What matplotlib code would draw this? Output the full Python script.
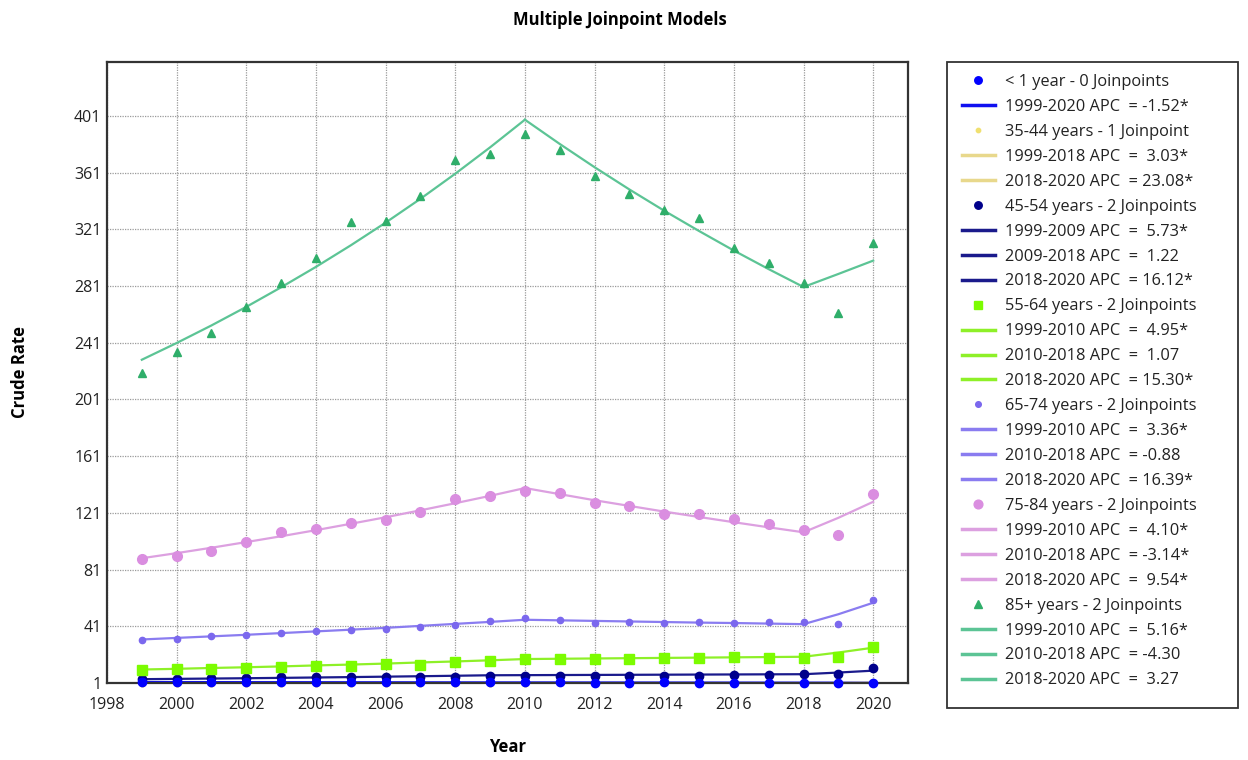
import matplotlib
matplotlib.use('Agg')
import matplotlib.pyplot as plt
from matplotlib.patches import Rectangle

plt.rcParams['font.family'] = ['Open Sans', 'DejaVu Sans']

years = list(range(1999, 2021))

# observed crude rates per age group
obs_under1 = [1.68, 1.62, 1.70, 1.55, 1.60, 1.52, 1.50, 1.55, 1.45, 1.47, 1.40,
              1.42, 1.38, 1.35, 1.33, 1.36, 1.30, 1.28, 1.25, 1.24, 1.22, 1.20]
obs_35_44 = [0.44, 0.47, 0.48, 0.50, 0.49, 0.53, 0.55, 0.54, 0.58, 0.60, 0.61,
             0.62, 0.65, 0.66, 0.69, 0.70, 0.73, 0.74, 0.78, 0.79, 0.95, 1.22]
obs_45_54 = [3.8, 3.8, 4.3, 4.5, 5.0, 5.0, 5.0, 5.2, 5.2, 5.5, 6.2,
             6.2, 6.2, 6.2, 6.2, 6.2, 6.2, 6.6, 6.6, 7.3, 7.1, 11.3]
obs_55_64 = [10.2, 11.1, 11.1, 11.6, 12.5, 13.0, 13.0, 14.2, 13.7, 16.0, 16.7,
             17.7, 17.7, 17.7, 18.1, 18.4, 18.4, 19.1, 18.8, 18.8, 19.1, 26.6]
obs_65_74 = [31.3, 32.3, 33.9, 35.1, 36.3, 37.5, 38.6, 39.1, 40.7, 42.1, 44.5,
             46.9, 45.7, 43.3, 43.8, 43.3, 44.2, 43.3, 44.0, 44.0, 42.6, 59.3]
obs_75_84 = [88.3, 90.6, 94.1, 100.7, 107.5, 109.6, 114.1, 116.0, 121.4, 130.8, 132.7,
             136.2, 134.8, 127.8, 126.1, 120.2, 120.0, 116.5, 113.4, 108.7, 105.4, 134.1]
obs_85 = [220.0, 234.5, 248.0, 266.0, 283.0, 301.0, 326.0, 327.0, 344.6, 370.0, 374.0,
          388.0, 377.0, 358.7, 346.0, 334.7, 329.0, 308.0, 297.0, 283.0, 262.0, 311.0]

# joinpoint model fits
fit_under1 = [1.68, 1.65, 1.63, 1.60, 1.58, 1.56, 1.53, 1.51, 1.49, 1.46, 1.44,
              1.42, 1.40, 1.38, 1.36, 1.34, 1.32, 1.30, 1.28, 1.26, 1.24, 1.22]
fit_35_44 = [0.450, 0.464, 0.478, 0.492, 0.507, 0.523, 0.538, 0.555, 0.571, 0.589, 0.607,
             0.625, 0.644, 0.663, 0.684, 0.704, 0.726, 0.748, 0.770, 0.794, 0.977, 1.202]
fit_45_54 = [3.70, 3.91, 4.14, 4.37, 4.62, 4.89, 5.17, 5.47, 5.78, 6.11, 6.46,
             6.54, 6.62, 6.70, 6.78, 6.86, 6.95, 7.03, 7.12, 7.20, 8.37, 9.71]
fit_55_64 = [10.5, 11.0, 11.6, 12.1, 12.7, 13.4, 14.0, 14.7, 15.5, 16.2, 17.0,
             17.9, 18.1, 18.3, 18.5, 18.7, 18.9, 19.1, 19.3, 19.5, 22.5, 25.9]
fit_65_74 = [31.7, 32.8, 33.9, 35.0, 36.2, 37.4, 38.6, 39.9, 41.3, 42.7, 44.1,
             45.6, 45.2, 44.8, 44.4, 44.0, 43.6, 43.3, 42.9, 42.5, 49.5, 57.6]
fit_75_84 = [89.0, 92.6, 96.4, 100.4, 104.5, 108.8, 113.3, 117.9, 122.8, 127.8, 133.0,
             138.5, 134.2, 129.9, 125.9, 121.9, 118.1, 114.4, 110.8, 107.3, 117.5, 128.8]
fit_85 = [229.0, 240.8, 253.2, 266.3, 280.1, 294.5, 309.7, 325.7, 342.5, 360.2, 378.8,
          398.3, 381.2, 364.8, 349.1, 334.1, 319.8, 306.0, 292.9, 280.3, 289.5, 298.9]

group_labels = ['< 1 year - 0 Joinpoints', '35-44 years - 1 Joinpoint',
                '45-54 years - 2 Joinpoints', '55-64 years - 2 Joinpoints',
                '65-74 years - 2 Joinpoints', '75-84 years - 2 Joinpoints',
                '85+ years - 2 Joinpoints']

# segment boundaries and annual percent change per group
joinpoints = [[1999, 2020], [1999, 2018, 2020], [1999, 2009, 2018, 2020],
              [1999, 2010, 2018, 2020], [1999, 2010, 2018, 2020],
              [1999, 2010, 2018, 2020], [1999, 2010, 2018, 2020]]
apcs = [['-1.52*'], [' 3.03*', '23.08*'], [' 5.73*', ' 1.22', '16.12*'],
        [' 4.95*', ' 1.07', '15.30*'], [' 3.36*', '-0.88', '16.39*'],
        [' 4.10*', '-3.14*', ' 9.54*'], [' 5.16*', '-4.30', ' 3.27']]

observed = [obs_under1, obs_35_44, obs_45_54, obs_55_64, obs_65_74, obs_75_84, obs_85]
fitted = [fit_under1, fit_35_44, fit_45_54, fit_55_64, fit_65_74, fit_75_84, fit_85]

styles = [
    {'color': '#0000ff', 'line': '#1010f0', 'marker': 'o', 'ms': 6, 'z': 3.2},
    {'color': '#f0e070', 'line': '#e8d88c', 'marker': 'o', 'ms': 3.5, 'z': 2.9},
    {'color': '#00008b', 'line': '#1a1a8c', 'marker': 'o', 'ms': 6, 'z': 3},
    {'color': '#7cfc00', 'line': '#8ef028', 'marker': 's', 'ms': 7, 'z': 3},
    {'color': '#7b68ee', 'line': '#8a7cf0', 'marker': 'o', 'ms': 4.5, 'z': 3},
    {'color': '#da8ee0', 'line': '#dca0e0', 'marker': 'o', 'ms': 7, 'z': 3},
    {'color': '#2fae6a', 'line': '#5cc495', 'marker': '^', 'ms': 6, 'z': 3},
]

fig = plt.figure(figsize=(12.48, 7.6), dpi=100)
ax = fig.add_axes([107 / 1248, 77 / 760, 801 / 1248, 621 / 760])

for label, obs, fit, jp, apc, st in zip(group_labels, observed, fitted, joinpoints, apcs, styles):
    ax.plot(years, obs, linestyle='none', marker=st['marker'], ms=st['ms'],
            color=st['color'], label=label, zorder=st['z'], clip_on=False)
    for k in range(len(jp) - 1):
        i0 = years.index(jp[k])
        i1 = years.index(jp[k + 1]) + 1
        ax.plot(years[i0:i1], fit[i0:i1], color=st['line'], lw=1.6, zorder=2,
                label=f'{jp[k]}-{jp[k + 1]} APC  = {apc[k]}')

ax.set_xlim(1998, 2021)
ax.set_ylim(1, 439)
ax.set_xticks(range(1998, 2021, 2))
ax.set_yticks(range(1, 402, 40))
ax.tick_params(length=0, labelsize=11.5, labelcolor='#222222')
ax.tick_params(axis='x', pad=10)
ax.tick_params(axis='y', pad=4)
ax.grid(True, color='#9a9a9a', linestyle=(0, (1, 1)), linewidth=0.9)
ax.set_axisbelow(True)
for side, sp in ax.spines.items():
    sp.set_color('#333333')
    sp.set_linewidth(1.6)

ax.set_xlabel('Year', fontsize=12, fontweight='bold', labelpad=18)
fig.text(20 / 1248, 1 - 372 / 760, 'Crude Rate', rotation=90, ha='center', va='center',
         fontsize=12, fontweight='bold')
fig.text(620 / 1248, 1 - 20 / 760, 'Multiple Joinpoint Models', ha='center', va='center',
         fontsize=12, fontweight='bold')

# legend box drawn separately so it can be wider than its entries
fig.patches.append(Rectangle((947 / 1248, 1 - 708 / 760), 291 / 1248, 646 / 760,
                             transform=fig.transFigure, facecolor='white',
                             edgecolor='#333333', linewidth=1.3, zorder=0))

leg = fig.legend(loc='upper left', bbox_to_anchor=(962 / 1248, 1 - 74 / 760),
                 fontsize=11.8, frameon=False, handlelength=2.0, handletextpad=0.6,
                 labelspacing=0.545, borderpad=0, borderaxespad=0, markerscale=0.9)
for h in leg.legend_handles:
    if h.get_linestyle() not in ('None', 'none', ''):
        h.set_linewidth(2.5)
for t in leg.get_texts():
    t.set_color('#222222')

fig.savefig('out.png', dpi=100)
